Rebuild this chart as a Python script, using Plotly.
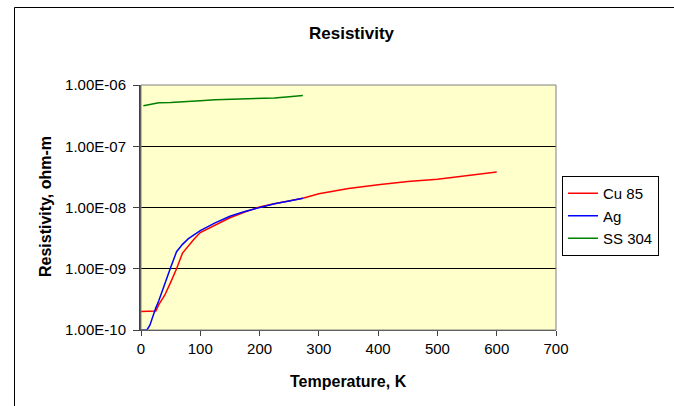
import plotly.graph_objects as go

# ---- data ----
cu_T = [0, 10, 20, 25, 30, 40, 50, 60, 70, 80, 90, 100, 125, 150, 175, 200, 225, 250, 273, 300, 350, 400, 450, 500, 600]
cu_rho = [2.0e-10, 2.0e-10, 2.0e-10, 2.05e-10, 2.6e-10, 3.7e-10, 6.0e-10, 1.0e-9, 1.8e-9, 2.4e-9, 3.1e-9, 3.9e-9,
          5.2e-9, 6.8e-9, 8.4e-9, 1.02e-8, 1.15e-8, 1.3e-8, 1.42e-8, 1.68e-8, 2.05e-8, 2.35e-8, 2.65e-8, 2.9e-8, 3.8e-8]

ag_T = [0, 10, 15, 20, 25, 30, 40, 50, 60, 70, 80, 90, 100, 125, 150, 175, 200, 225, 250, 273]
ag_rho = [1.0e-10, 1.0e-10, 1.2e-10, 1.7e-10, 2.3e-10, 3.0e-10, 5.4e-10, 1.05e-9, 1.9e-9, 2.5e-9, 3.1e-9, 3.6e-9,
          4.2e-9, 5.6e-9, 7.2e-9, 8.6e-9, 1.0e-8, 1.15e-8, 1.28e-8, 1.41e-8]

ss_T = [4, 20, 30, 50, 70, 100, 125, 150, 175, 200, 225, 250, 273]
ss_rho = [4.6e-7, 5.0e-7, 5.15e-7, 5.2e-7, 5.3e-7, 5.55e-7, 5.75e-7, 5.85e-7, 5.9e-7, 6.0e-7, 6.15e-7, 6.45e-7, 6.75e-7]

y_tickvals = [1e-10, 1e-9, 1e-8, 1e-7, 1e-6]
y_ticktext = ["1.00E-10", "1.00E-09", "1.00E-08", "1.00E-07", "1.00E-06"]
x_tickvals = [0, 100, 200, 300, 400, 500, 600, 700]

FONT = "Liberation Sans, Arial, sans-serif"

fig = go.Figure()
fig.add_trace(go.Scatter(x=cu_T, y=cu_rho, mode="lines", name="Cu 85",
                         line=dict(color="#FF0000", width=1.5)))
fig.add_trace(go.Scatter(x=ag_T, y=ag_rho, mode="lines", name="Ag",
                         line=dict(color="#0000FF", width=1.5)))
fig.add_trace(go.Scatter(x=ss_T, y=ss_rho, mode="lines", name="SS 304",
                         line=dict(color="#008000", width=1.5)))

L, R, T, B = 141, 118, 85, 76
W, H = 674, 406
pw, ph = W - L - R, H - T - B

def fx(px):
    return (px - L) / pw

def fy(py):
    return (H - B - py) / ph

fig.update_layout(
    width=W, height=H,
    margin=dict(l=L, r=R, t=T, b=B, pad=0),
    paper_bgcolor="white",
    plot_bgcolor="#FFFFCC",
    font=dict(family=FONT, size=15, color="black"),
    showlegend=True,
    legend=dict(x=fx(562), y=fy(176), xanchor="left", yanchor="top",
                bgcolor="white", bordercolor="black", borderwidth=1,
                font=dict(size=15), itemwidth=30, tracegroupgap=0),
    xaxis=dict(range=[0, 700], tickvals=x_tickvals, ticks="outside", ticklen=5,
               tickcolor="#404040", showline=True, linecolor="#404040", linewidth=1,
               showgrid=False, zeroline=False, tickfont=dict(size=15)),
    yaxis=dict(type="log", range=[-10, -6], tickvals=y_tickvals, ticktext=y_ticktext,
               ticks="outside", ticklen=6, tickcolor="#404040",
               showline=True, linecolor="#404040", linewidth=2,
               showgrid=True, gridcolor="#000000", gridwidth=1, zeroline=False,
               tickfont=dict(size=15), ticklabelstandoff=4),
    annotations=[
        dict(text="<b>Resistivity</b>", xref="paper", yref="paper", x=fx(352), y=fy(34),
             showarrow=False, font=dict(size=17), xanchor="center", yanchor="middle"),
        dict(text="<b>Temperature, K</b>", xref="paper", yref="paper", x=fx(348), y=fy(382),
             showarrow=False, font=dict(size=16), xanchor="center", yanchor="middle"),
        dict(text="<b>Resistivity, ohm-m</b>", xref="paper", yref="paper", x=fx(45), y=fy(207),
             showarrow=False, font=dict(size=16), textangle=-90, xanchor="center", yanchor="middle"),
    ],
    shapes=[
        dict(type="rect", xref="paper", yref="paper", x0=0, x1=1, y0=0, y1=1,
             line=dict(color="#808080", width=1), layer="above"),
        dict(type="rect", xref="paper", yref="paper", x0=fx(14.5), x1=fx(690), y0=fy(7.5), y1=fy(420),
             line=dict(color="black", width=1), layer="below"),
    ],
)

fig.write_html("out.html")
